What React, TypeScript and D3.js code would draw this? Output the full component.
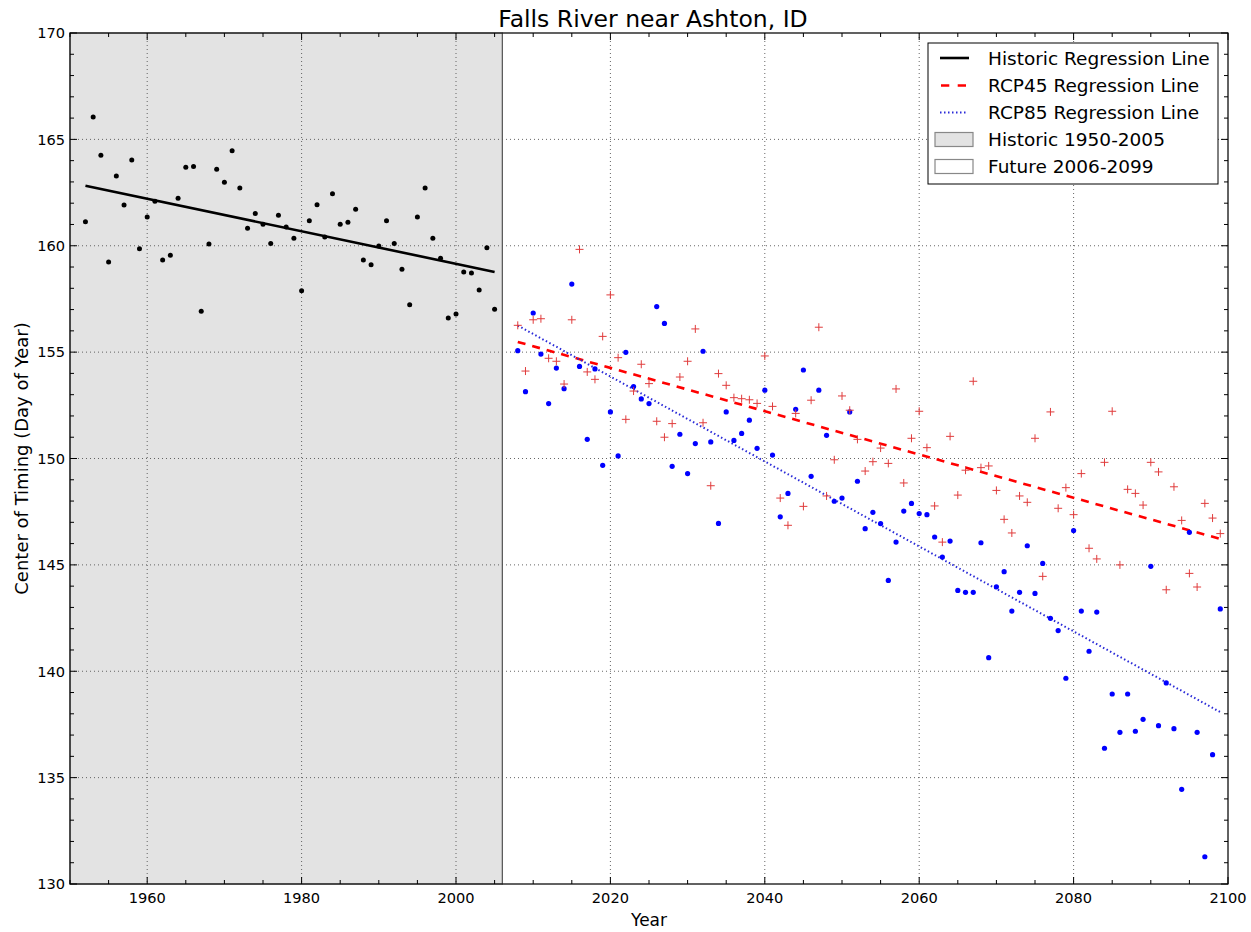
import React from 'react';
import * as d3 from 'd3';

// ---------- data ----------
const histStartYear = 1952;
const histValues = [
  161.13, 166.05, 164.25, 159.24, 163.28, 161.92, 164.03, 159.86, 161.35, 162.09,
  159.33, 159.55, 162.23, 163.69, 163.73, 156.92, 160.08, 163.59, 162.98, 164.47,
  162.71, 160.82, 161.52, 161.01, 160.11, 161.43, 160.88, 160.35, 157.89, 161.18,
  161.93, 160.41, 162.45, 161.01, 161.10, 161.71, 159.33, 159.11, 159.99, 161.18,
  160.11, 158.89, 157.23, 161.35, 162.71, 160.35, 159.41, 156.60, 156.79, 158.77,
  158.72, 157.92, 159.91, 157.01,
];

const futStartYear = 2008;
const rcp85Values = [
  155.07, 153.14, 156.84, 154.91, 152.58, 154.25, 153.28, 158.20, 154.33, 150.90,
  154.21, 149.68, 152.19, 150.12, 154.99, 153.38, 152.80, 152.58, 157.14, 156.35,
  149.63, 151.14, 149.29, 150.70, 155.04, 150.78, 146.95, 152.19, 150.85, 151.18,
  151.80, 150.48, 153.21, 150.16, 147.26, 148.36, 152.31, 154.16, 149.16, 153.21,
  151.09, 147.99, 148.14, 152.19, 148.93, 146.70, 147.47, 146.94, 144.27, 146.07,
  147.53, 147.89, 147.41, 147.36, 146.31, 145.37, 146.12, 143.80, 143.71, 143.71,
  146.04, 140.64, 143.97, 144.68, 142.83, 143.71, 145.90, 143.66, 145.07, 142.49,
  141.91, 139.67, 146.61, 142.83, 140.94, 142.78, 136.38, 138.93, 137.13, 138.93,
  137.18, 137.74, 144.93, 137.44, 139.45, 137.30, 134.45, 146.53, 137.13, 131.28,
  136.08, 142.93,
];
const rcp45Values = [
  156.26, 154.11, 156.52, 156.57, 154.71, 154.57, 153.50, 156.52, 159.83, 154.07,
  153.72, 155.74, 157.69, 154.74, 151.84, 153.17, 154.43, 153.52, 151.75, 151.00,
  151.64, 153.83, 154.57, 156.09, 151.68, 148.72, 153.99, 153.44, 152.86, 152.81,
  152.76, 152.59, 154.82, 152.45, 148.14, 146.86, 152.12, 147.75, 152.74, 156.17,
  148.24, 149.94, 152.94, 152.27, 150.90, 149.41, 149.85, 150.49, 149.77, 153.27,
  148.85, 150.95, 152.22, 150.51, 147.77, 146.07, 151.04, 148.28, 149.45, 153.63,
  149.57, 149.65, 148.50, 147.14, 146.50, 148.24, 147.94, 150.95, 144.46, 152.19,
  147.66, 148.63, 147.36, 149.29, 145.78, 145.28, 149.82, 152.22, 145.00, 148.55,
  148.36, 147.81, 149.82, 149.37, 143.83, 148.67, 147.09, 144.60, 143.96, 147.89,
  147.20, 146.47,
];

// regression line end points [year, value]
const histRegression = [[1952, 162.82], [2005, 158.77]];
const rcp45Regression = [[2008, 155.48], [2099, 146.22]];
const rcp85Regression = [[2008, 156.25], [2099, 138.08]];

const xMajorTicks = [1960, 1980, 2000, 2020, 2040, 2060, 2080, 2100];
const yMajorTicks = [130, 135, 140, 145, 150, 155, 160, 165, 170];
const historicSpan = [1950, 2006];
const futureSpan = [2006, 2100];

const legendItems = [
  'Historic Regression Line',
  'RCP45 Regression Line',
  'RCP85 Regression Line',
  'Historic 1950-2005',
  'Future 2006-2099',
];

const title = 'Falls River near Ashton, ID';
const xLabel = 'Year';
const yLabel = 'Center of Timing (Day of Year)';

// ---------- layout ----------
const W = 1251;
const H = 932;
const L = 70, R = 1228, T = 33, B = 884;
const FONT = 'DejaVu Sans, sans-serif';

export default function App() {
  const x = d3.scaleLinear().domain([1950, 2100]).range([L, R]);
  const y = d3.scaleLinear().domain([130, 170]).range([B, T]);
  const line = d3.line<number[]>().x(d => x(d[0])).y(d => y(d[1]));

  const hist = histValues.map((v, i) => [histStartYear + i, v]);
  const r85 = rcp85Values.map((v, i) => [futStartYear + i, v]);
  const r45 = rcp45Values.map((v, i) => [futStartYear + i, v]);

  const xMinor = d3.range(1950, 2101, 5).filter(t => !xMajorTicks.includes(t));
  const yMinor = d3.range(130, 171, 1).filter(t => !yMajorTicks.includes(t));

  const majLen = 7, minLen = 4;
  const tickColor = '#000';

  const lg = { x: 928, y: 43, w: 290, h: 141 };
  const rowY = [58, 85.5, 112.5, 139.5, 166.5];

  return (
    <svg width={W} height={H} style={{ position: 'absolute', left: 0, top: 0, background: '#fff' }}>
      <rect x={0} y={0} width={W} height={H} fill="#fff" />
      {/* spans */}
      <rect x={x(futureSpan[0])} y={T} width={x(futureSpan[1]) - x(futureSpan[0])} height={B - T}
        fill="#fff" stroke="#888" strokeWidth={1} />
      <rect x={x(historicSpan[0])} y={T} width={x(historicSpan[1]) - x(historicSpan[0])} height={B - T}
        fill="#e3e3e3" stroke="#555" strokeWidth={1.2} />
      {/* grid */}
      <g stroke="#555" strokeWidth={0.9} strokeDasharray="1,3">
        {xMajorTicks.filter(t => t > 1950 && t < 2100).map(t => (
          <line key={'gx' + t} x1={x(t)} x2={x(t)} y1={T} y2={B} />
        ))}
        {yMajorTicks.filter(t => t > 130 && t < 170).map(t => (
          <line key={'gy' + t} x1={L} x2={R} y1={y(t)} y2={y(t)} />
        ))}
      </g>
      {/* regression lines */}
      <path d={line(histRegression) || ''} fill="none" stroke="#000" strokeWidth={2.6} />
      <path d={line(rcp45Regression) || ''} fill="none" stroke="#ff0000" strokeWidth={2.6} strokeDasharray="8,7" />
      <path d={line(rcp85Regression) || ''} fill="none" stroke="#2a2ad8" strokeWidth={2} strokeDasharray="1.5,2.5" />
      {/* points */}
      {hist.map(d => <circle key={'h' + d[0]} cx={x(d[0])} cy={y(d[1])} r={2.5} fill="#000" />)}
      {r85.map(d => <circle key={'b' + d[0]} cx={x(d[0])} cy={y(d[1])} r={2.6} fill="#0000ff" />)}
      <g stroke="#e03c3c" strokeWidth={1}>
        {r45.map(d => (
          <g key={'r' + d[0]}>
            <line x1={x(d[0]) - 4} x2={x(d[0]) + 4} y1={y(d[1])} y2={y(d[1])} />
            <line x1={x(d[0])} x2={x(d[0])} y1={y(d[1]) - 4} y2={y(d[1]) + 4} />
          </g>
        ))}
      </g>
      {/* frame */}
      <rect x={L} y={T} width={R - L} height={B - T} fill="none" stroke="#000" strokeWidth={1} />
      {/* ticks */}
      <g stroke={tickColor} strokeWidth={1}>
        {xMajorTicks.map(t => (
          <g key={'xt' + t}>
            <line x1={x(t)} x2={x(t)} y1={B} y2={B - majLen} />
            <line x1={x(t)} x2={x(t)} y1={T} y2={T + majLen} />
          </g>
        ))}
        {xMinor.map(t => (
          <g key={'xm' + t}>
            <line x1={x(t)} x2={x(t)} y1={B} y2={B - minLen} />
            <line x1={x(t)} x2={x(t)} y1={T} y2={T + minLen} />
          </g>
        ))}
        {yMajorTicks.map(t => (
          <g key={'yt' + t}>
            <line x1={L} x2={L + majLen} y1={y(t)} y2={y(t)} />
            <line x1={R} x2={R - majLen} y1={y(t)} y2={y(t)} />
          </g>
        ))}
        {yMinor.map(t => (
          <g key={'ym' + t}>
            <line x1={L} x2={L + minLen} y1={y(t)} y2={y(t)} />
            <line x1={R} x2={R - minLen} y1={y(t)} y2={y(t)} />
          </g>
        ))}
      </g>
      {/* tick labels */}
      <g fontFamily={FONT} fontSize={14.6} fill="#000">
        {xMajorTicks.map(t => (
          <text key={'xl' + t} x={x(t)} y={B + 18.5} textAnchor="middle">{t}</text>
        ))}
        {yMajorTicks.map(t => (
          <text key={'yl' + t} x={L - 5} y={y(t) + 5.3} textAnchor="end">{t}</text>
        ))}
      </g>
      {/* titles */}
      <text x={(L + R) / 2 + 4} y={27.3} textAnchor="middle" fontFamily={FONT} fontSize={23.5} fill="#000">{title}</text>
      <text x={(L + R) / 2} y={926} textAnchor="middle" fontFamily={FONT} fontSize={17} fill="#000">{xLabel}</text>
      <text transform={`translate(28,${(T + B) / 2}) rotate(-90)`} textAnchor="middle" fontFamily={FONT} fontSize={18} fill="#000">{yLabel}</text>
      {/* legend */}
      <rect x={lg.x} y={lg.y} width={lg.w} height={lg.h} fill="#fff" stroke="#000" strokeWidth={1} />
      <line x1={940} x2={969} y1={rowY[0]} y2={rowY[0]} stroke="#000" strokeWidth={2.6} />
      <line x1={941} x2={966} y1={rowY[1]} y2={rowY[1]} stroke="#ff0000" strokeWidth={2.6} strokeDasharray="8.3,8.4" />
      <line x1={940} x2={968} y1={rowY[2]} y2={rowY[2]} stroke="#2a2ad8" strokeWidth={2} strokeDasharray="1.5,2.5" />
      <rect x={935} y={rowY[3] - 7} width={38} height={14} fill="#e3e3e3" stroke="#888" strokeWidth={1.2} />
      <rect x={935} y={rowY[4] - 7} width={38} height={14} fill="#fff" stroke="#888" strokeWidth={1.2} />
      <g fontFamily={FONT} fontSize={18.5} fill="#000">
        {legendItems.map((s, i) => (
          <text key={s} x={988} y={rowY[i] + 6.6}>{s}</text>
        ))}
      </g>
    </svg>
  );
}
